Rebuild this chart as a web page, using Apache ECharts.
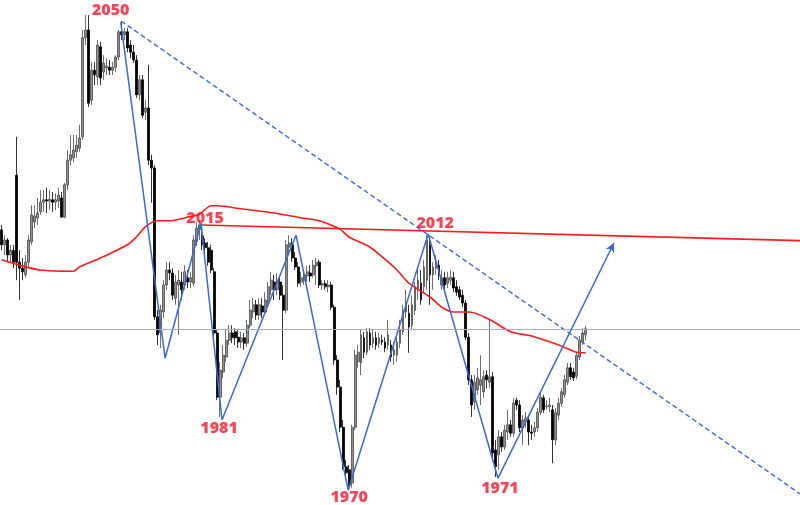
<!DOCTYPE html>
<html>
<head>
<meta charset="utf-8">
<script src="https://cdn.jsdelivr.net/npm/echarts@6/dist/echarts.min.js"></script>
<style>html,body{margin:0;padding:0;background:#fff}#c{width:800px;height:505px}</style>
</head>
<body>
<div id="c"></div>
<script>
// slot count across the plot (candles occupy the first part, the rest is projection space)
const slotCount = 267;
// candles: [open, close, low, high]
const ohlc = [
[2015.7,2013.2,2012.3,2016.5],[2013.2,2014.0,2011.5,2014.8],[2014.0,2011.5,2010.3,2014.3],[2011.5,2012.3,2010.3,2013.2],
[2012.3,2010.3,2009.3,2013.2],[2024.8,2010.3,2007.3,2031.2],[2010.3,2009.3,2004.0,2012.3],[2009.3,2008.7,2007.3,2011.0],
[2008.2,2010.3,2007.7,2011.5],[2010.3,2014.0,2009.3,2014.8],[2013.7,2018.2,2013.2,2019.8],[2017.0,2018.0,2016.0,2019.8],
[2017.7,2018.5,2016.5,2021.0],[2018.7,2020.3,2018.2,2022.3],[2020.3,2020.7,2018.7,2022.3],[2020.7,2020.5,2018.5,2022.7],
[2020.5,2020.8,2019.0,2022.3],[2020.7,2020.3,2018.7,2022.0],[2020.3,2020.7,2019.0,2021.8],[2020.5,2021.5,2019.3,2022.7],
[2021.0,2017.8,2017.7,2022.0],[2017.8,2023.2,2017.7,2023.5],[2023.2,2027.3,2022.3,2029.0],[2027.3,2028.2,2026.5,2031.5],
[2027.7,2029.0,2027.0,2031.5],[2028.7,2029.8,2027.7,2031.5],[2029.3,2031.0,2028.7,2033.2],[2031.2,2047.7,2030.7,2049.0],
[2047.7,2049.0,2046.5,2051.5],[2049.0,2036.8,2036.2,2051.5],[2037.3,2042.3,2036.5,2043.7],[2042.3,2041.5,2039.8,2043.7],
[2041.2,2046.5,2039.8,2047.3],[2046.2,2041.0,2039.8,2047.0],[2042.0,2043.5,2040.7,2044.8],[2042.7,2043.0,2041.5,2044.3],
[2042.8,2042.3,2041.5,2044.0],[2042.3,2042.8,2041.5,2043.7],[2042.8,2044.5,2042.0,2044.8],[2044.5,2048.7,2044.0,2049.0],
[2048.7,2048.2,2047.3,2050.3],[2048.2,2048.7,2047.3,2049.3],[2048.7,2046.0,2045.3,2049.3],[2046.5,2045.3,2044.3,2047.3],
[2045.3,2044.0,2043.5,2046.5],[2044.0,2038.2,2037.7,2044.8],[2038.2,2040.7,2037.3,2041.5],[2040.7,2034.8,2034.3,2041.5],
[2035.3,2036.0,2034.0,2037.3],[2036.0,2027.3,2026.5,2043.2],[2027.3,2026.0,2020.2,2028.2],[2026.0,2001.2,2000.7,2026.5],
[2001.2,1998.2,1996.5,2002.3],[1998.5,2002.3,1996.0,2003.2],[2002.0,2006.5,2001.0,2007.3],[2006.5,2009.0,2005.7,2010.3],
[2009.0,2008.5,2007.3,2010.3],[2008.5,2004.8,2004.0,2009.3],[2004.3,2007.0,2003.2,2008.2],[2006.5,2007.3,1998.2,2009.0],
[2007.0,2005.7,2004.0,2008.7],[2006.5,2008.7,2005.7,2009.8],[2007.7,2007.0,2006.0,2009.0],[2007.0,2007.7,2006.0,2008.7],
[2006.8,2014.0,2006.3,2014.8],[2013.7,2016.0,2013.0,2017.0],[2015.7,2016.5,2014.0,2017.3],[2014.7,2013.2,2012.3,2016.5],
[2013.5,2012.7,2011.0,2014.3],[2012.7,2010.3,2009.7,2013.7],[2012.3,2009.0,2008.5,2013.2],[2008.7,1998.5,1997.7,2009.3],
[1998.5,1987.8,1987.3,1999.0],[1987.8,1992.3,1984.5,1993.7],[1992.0,1994.8,1991.0,1996.5],[1994.5,1997.3,1993.7,1999.0],
[1997.3,1998.5,1996.5,1999.8],[1998.5,1997.7,1996.8,1999.8],[1998.7,1997.7,1996.5,1999.3],[1997.8,1997.0,1996.0,1999.0],
[1997.0,1997.7,1996.0,1998.7],[1997.7,1996.8,1995.7,1998.5],[1996.8,1999.8,1996.2,2000.7],[1999.8,2002.3,1999.3,2004.0],
[2002.0,2003.2,2001.0,2004.3],[2003.2,2001.5,2000.7,2004.0],[2001.5,2003.2,2000.7,2004.3],[2003.0,2002.0,2001.0,2004.3],
[2002.0,2004.0,2001.5,2005.3],[2003.7,2006.2,2003.2,2007.0],[2005.7,2007.3,2004.8,2008.7],[2007.0,2005.7,2004.0,2008.2],
[2005.7,2007.3,2004.8,2008.5],[2007.0,2004.8,2004.0,2008.0],[2004.8,2002.3,1994.0,2006.5],[2002.3,2013.2,2001.8,2014.0],
[2012.8,2013.5,2011.5,2014.8],[2013.2,2011.0,2010.3,2014.3],[2011.0,2009.5,2009.0,2012.0],[2009.5,2006.8,2006.2,2010.3],
[2007.0,2007.7,2006.2,2008.7],[2007.3,2008.2,2006.5,2009.0],[2008.0,2008.7,2007.0,2009.7],[2008.5,2008.0,2007.0,2009.8],
[2008.2,2009.8,2007.7,2010.7],[2009.7,2010.3,2006.5,2011.0],[2010.3,2006.5,2006.0,2010.7],[2006.5,2006.7,2005.7,2007.3],
[2006.7,2006.2,2005.7,2007.3],[2006.2,2006.5,2005.3,2007.3],[2006.5,2002.8,2002.3,2007.0],[2002.8,1994.0,1993.2,2003.2],
[1994.0,1989.5,1988.2,1994.8],[1989.5,1982.8,1982.0,1990.7],[1982.8,1976.2,1975.7,1984.0],[1976.2,1975.2,1974.0,1977.3],
[1975.7,1973.2,1972.3,1976.5],[1973.5,1982.8,1972.7,1983.2],[1982.8,1994.8,1982.3,1995.7],[1993.7,1995.3,1992.7,1996.5],
[1993.5,1998.2,1991.5,1999.0],[1997.7,1995.3,1994.3,1998.7],[1995.3,1998.7,1994.8,1999.3],[1998.5,1996.5,1995.7,1999.3],
[1996.8,1997.7,1996.0,1999.0],[1997.7,1996.5,1995.7,1998.7],[1996.8,1997.7,1996.0,1998.5],[1997.3,1997.0,1996.5,1998.2],
[1997.0,1996.0,1995.3,1997.8],[1996.5,1998.2,1995.7,2000.7],[1996.5,1994.5,1993.7,1997.3],[1994.8,1995.7,1993.2,1997.0],
[1994.8,1997.0,1993.7,1998.2],[1996.8,1999.0,1996.0,2000.7],[1998.7,2002.3,1998.2,2003.2],[2002.0,2003.5,2001.0,2005.7],
[2001.8,1999.5,1995.2,2003.2],[1999.8,2003.2,1999.0,2004.8],[2002.3,2006.2,2001.5,2007.0],[2005.7,2007.3,2004.0,2009.0],
[2006.8,2004.0,2003.2,2009.0],[2006.2,2009.5,2005.3,2010.7],[2007.3,2014.0,2005.7,2014.8],[2013.2,2008.2,2003.2,2014.3],
[2008.2,2009.5,2005.7,2010.3],[2009.3,2010.2,2008.2,2011.5],[2009.8,2008.2,2007.3,2010.7],[2006.5,2007.7,2005.7,2009.0],
[2007.7,2006.5,2005.7,2008.7],[2006.8,2007.7,2006.0,2008.7],[2007.3,2007.8,2006.5,2009.0],[2007.7,2006.0,2005.3,2008.7],
[2006.2,2005.3,2004.7,2007.3],[2005.7,2004.5,2004.0,2006.3],[2004.8,2003.5,2002.8,2005.7],[2003.5,1997.8,1997.3,2004.0],
[1997.8,1990.7,1989.8,1998.5],[1990.7,1986.5,1984.5,1991.5],[1987.0,1990.3,1985.7,1991.5],[1989.0,1991.0,1988.2,1992.7],
[1989.8,1990.7,1986.5,1994.8],[1988.7,1991.2,1987.7,1992.3],[1991.5,1990.7,1989.3,1992.3],[1990.3,1991.2,1989.3,2000.7],
[1991.2,1978.5,1977.7,1992.0],[1979.0,1976.2,1974.5,1980.7],[1978.2,1981.2,1975.7,1982.3],[1981.2,1979.5,1978.7,1982.0],
[1979.5,1982.3,1979.0,1983.2],[1982.0,1983.2,1980.7,1985.7],[1983.2,1981.8,1981.2,1984.0],[1981.8,1986.8,1981.2,1987.7],
[1987.3,1986.5,1985.7,1987.7],[1986.5,1982.7,1982.0,1987.3],[1982.7,1984.0,1979.8,1984.8],[1983.7,1984.3,1982.7,1985.3],
[1984.0,1982.0,1979.8,1984.8],[1982.0,1981.8,1980.7,1983.2],[1982.0,1982.7,1981.2,1983.7],[1982.7,1985.3,1982.0,1986.0],
[1985.3,1987.8,1984.8,1988.7],[1987.7,1985.7,1985.2,1988.2],[1986.2,1986.3,1985.7,1987.3],[1986.2,1986.5,1985.3,1987.7],
[1985.7,1980.7,1976.8,1986.5],[1980.7,1985.2,1979.8,1986.0],[1984.8,1986.8,1984.0,1987.7],[1986.8,1988.7,1986.2,1989.3],
[1988.2,1990.7,1987.7,1991.5],[1990.3,1992.7,1989.8,1993.5],[1992.7,1991.2,1990.7,1993.5],[1992.0,1991.0,1990.5,1992.7],
[1991.3,1994.8,1990.8,1995.3],[1994.5,1997.3,1994.0,1998.0],[1997.0,1998.5,1996.5,1999.3],[1998.2,1999.2,1997.3,1999.7]
];
// moving average, sampled [slot index, price]
const maPoints = [
[0,2010.7],[6,2009.8],[13,2009.0],[24,2008.8],[26,2009.5],[33,2011.0],[42,2013.2],[45,2014.5],[48,2016.2],
[52,2017.2],[56,2017.2],[62,2017.8],[66,2018.3],[70,2019.7],[72,2019.7],[80,2019.2],[91,2018.5],[100,2017.7],
[106,2017.2],[110,2016.5],[113,2015.8],[116,2014.5],[123,2012.8],[127,2011.2],[132,2009.0],[136,2006.8],
[143,2004.5],[147,2002.8],[151,2002.0],[156,2002.0],[163,2000.7],[170,1998.7],[177,1998.0],[186,1996.5],
[192,1995.3],[195,1995.2]
];
// swing pivots [slot index, price]
const zigzag = [[39.8,2050.3],[54.6,1994.3],[66.6,2016.8],[73.6,1984.0],[98.3,2014.8],[115.7,1972.3],[142.4,2015.0],[165.7,1974.3]];
const projectionEnd = [204.4, 2013.5];
const trendLine = [[39.9,2050.5],[266.5,1971.7]];
const resistanceLine = [[66.6,2016.5],[266.5,2013.9]];
const lastPrice = 1999.2;
// labelled pivots: index into zigzag and text
const pivotLabels = [
  {pivot:0, text:'2050'},{pivot:2, text:'2015'},{pivot:3, text:'1981'},
  {pivot:5, text:'1970'},{pivot:6, text:'2012'},{pivot:7, text:'1971'}
];

const categories = Array.from({length: slotCount}, (_, i) => String(i));
const labelOffsets = {'2050':[-10,-12],'2015':[4,-5],'1981':[-3,8],'1970':[1,7],'2012':[7,-11],'1971':[2,10]};
const blue = '#3b68d8', red = '#ff1a1a';

const chart = echarts.init(document.getElementById('c'), null, {renderer:'canvas'});
chart.setOption({
  animation:false,
  backgroundColor:'#ffffff',
  grid:{left:0,right:0,top:0,bottom:0},
  xAxis:[
    {type:'category', data:categories, show:false, boundaryGap:true},
    {type:'value', min:-0.5, max:slotCount-0.5, show:false}
  ],
  yAxis:{type:'value', min:2054-505/6, max:2054, show:false},
  series:[
    {
      type:'candlestick', xAxisIndex:0, data:ohlc, barWidth:2.4, z:2,
      itemStyle:{color:'#909090', color0:'#000000', borderColor:'#4a4a4a', borderColor0:'#000000', borderWidth:0.8},
      markLine:{silent:true, symbol:'none', label:{show:false},
        lineStyle:{color:'#a3b1bf', width:1, type:'solid'},
        data:[{yAxis:lastPrice}]}
    },
    {type:'line', xAxisIndex:1, data:maPoints, smooth:0.3, symbol:'none', z:3,
      lineStyle:{color:red, width:1.6}},
    {type:'line', xAxisIndex:1, data:resistanceLine, symbol:'none', z:3,
      lineStyle:{color:red, width:1.6}},
    {type:'line', xAxisIndex:1, data:trendLine, symbol:'none', z:4,
      lineStyle:{color:blue, width:1.4, type:[5,3]}},
    {type:'line', xAxisIndex:1, data:zigzag, symbol:'none', z:4,
      lineStyle:{color:blue, width:1.5},
      markLine:{silent:true, symbol:['none','arrow'], symbolSize:[7,9], label:{show:false},
        lineStyle:{color:blue, width:1.5, type:'solid'},
        data:[[{coord:zigzag[zigzag.length-1]},{coord:projectionEnd}]]}
    },
    {type:'scatter', xAxisIndex:1, symbolSize:0, z:6,
      data: pivotLabels.map(p => ({
        value: zigzag[p.pivot],
        label:{show:true, position:'inside', formatter:p.text, offset:labelOffsets[p.text],
          color:'#f5162e', fontSize:16, fontWeight:800, fontFamily:'Open Sans'}
      }))
    }
  ]
});
</script>
</body>
</html>
